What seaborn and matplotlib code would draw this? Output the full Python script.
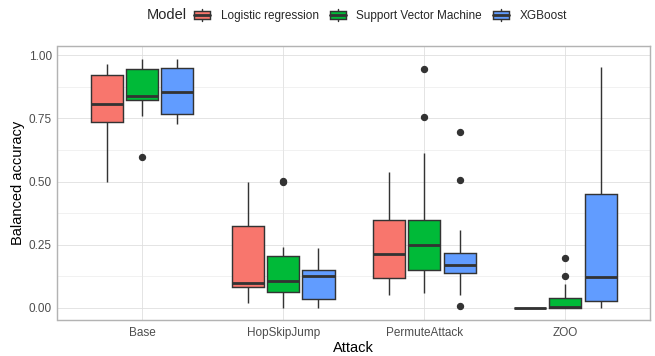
import numpy as np
import pandas as pd
import matplotlib
matplotlib.use('Agg')
import matplotlib.pyplot as plt
from matplotlib.patches import Rectangle, Patch
from matplotlib.lines import Line2D
from matplotlib.legend_handler import HandlerBase
import seaborn as sns

# %% data (one list per box)
attacks = ['Base', 'HopSkipJump', 'PermuteAttack', 'ZOO']
models = ['Logistic regression', 'Support Vector Machine', 'XGBoost']
colors = ['#F8766D', '#00BA38', '#619CFF']

base_lr = [0.498, 0.62, 0.71, 0.737, 0.76, 0.79, 0.807, 0.84, 0.89, 0.923, 0.94, 0.955, 0.967]
base_svm = [0.598, 0.758, 0.80, 0.822, 0.826, 0.832, 0.838, 0.87, 0.91, 0.945, 0.96, 0.975, 0.987]
base_xgb = [0.728, 0.745, 0.76, 0.768, 0.80, 0.83, 0.854, 0.88, 0.92, 0.952, 0.965, 0.978, 0.987]

hsj_lr = [0.018, 0.05, 0.07, 0.081, 0.088, 0.094, 0.099, 0.16, 0.25, 0.324, 0.38, 0.44, 0.498]
hsj_svm = [0.0, 0.03, 0.05, 0.062, 0.08, 0.095, 0.105, 0.14, 0.18, 0.205, 0.239, 0.499, 0.502]
hsj_xgb = [0.0, 0.01, 0.02, 0.035, 0.07, 0.11, 0.127, 0.135, 0.142, 0.150, 0.18, 0.21, 0.236]

perm_lr = [0.048, 0.08, 0.10, 0.117, 0.15, 0.19, 0.212, 0.25, 0.30, 0.349, 0.40, 0.47, 0.537]
perm_svm = [0.059, 0.10, 0.13, 0.150, 0.19, 0.22, 0.247, 0.28, 0.32, 0.347, 0.615, 0.757, 0.947]
perm_xgb = [0.007, 0.048, 0.10, 0.139, 0.150, 0.160, 0.167, 0.185, 0.20, 0.218, 0.306, 0.507, 0.697]

zoo_lr = [0.0, 0.0, 0.0, 0.0, 0.0]
zoo_svm = [0.0, 0.0, 0.0, 0.0, 0.0, 0.002, 0.003, 0.01, 0.025, 0.039, 0.094, 0.126, 0.196]
zoo_xgb = [0.0, 0.01, 0.02, 0.028, 0.06, 0.10, 0.122, 0.2, 0.33, 0.451, 0.6, 0.8, 0.955]

groups = {
    ('Base', models[0]): base_lr, ('Base', models[1]): base_svm, ('Base', models[2]): base_xgb,
    ('HopSkipJump', models[0]): hsj_lr, ('HopSkipJump', models[1]): hsj_svm, ('HopSkipJump', models[2]): hsj_xgb,
    ('PermuteAttack', models[0]): perm_lr, ('PermuteAttack', models[1]): perm_svm, ('PermuteAttack', models[2]): perm_xgb,
    ('ZOO', models[0]): zoo_lr, ('ZOO', models[1]): zoo_svm, ('ZOO', models[2]): zoo_xgb,
}
rows = [(a, m, v) for (a, m), vals in groups.items() for v in vals]
df = pd.DataFrame(rows, columns=['Attack', 'Model', 'Balanced accuracy'])

# %% plot
sns.set_style('whitegrid')
plt.rcParams['font.family'] = ['Liberation Sans', 'DejaVu Sans']

DPI = 96
fig = plt.figure(figsize=(655 / DPI, 356 / DPI), dpi=DPI)
ax = fig.add_axes([57.5 / 655, 1 - 320 / 356, (650 - 57.5) / 655, (320 - 46.3) / 356])

edge = '#333333'
sns.boxplot(data=df, x='Attack', y='Balanced accuracy', hue='Model', order=attacks,
            hue_order=models, palette=colors, saturation=1, width=0.75, gap=0.09,
            linecolor=edge, linewidth=1.07, showcaps=False, fliersize=4.5,
            flierprops={'marker': 'o', 'markerfacecolor': edge, 'markeredgecolor': edge},
            medianprops={'linewidth': 2.1, 'color': edge}, legend=False, ax=ax)

lo, hi = df['Balanced accuracy'].min(), df['Balanced accuracy'].max()
pad = (hi - lo) * 0.05
ax.set_ylim(lo - pad, hi + pad)
ax.set_xlim(-0.6, 3.6)
ax.set_yticks([0, 0.25, 0.5, 0.75, 1.0])
ax.set_yticklabels(['0.00', '0.25', '0.50', '0.75', '1.00'])
ax.set_yticks([0.125, 0.375, 0.625, 0.875], minor=True)

ax.set_axisbelow(True)
ax.grid(True, which='major', color='#DEDEDE', linewidth=0.6)
ax.grid(True, which='minor', axis='y', color='#E6E6E6', linewidth=0.4)
ax.tick_params(axis='both', which='major', length=2.75, width=0.55, color='#B3B3B3',
               labelcolor='#4D4D4D', labelsize=8.8)
ax.tick_params(axis='y', which='major', pad=1.6)
ax.tick_params(axis='x', which='major', pad=2.2)
ax.tick_params(which='minor', length=0)
for s in ax.spines.values():
    s.set_visible(True)
    s.set_color('#B3B3B3')
    s.set_linewidth(1.07)

ax.set_xlabel('Attack', fontsize=11, color='black', labelpad=2)
ax.set_ylabel('Balanced accuracy', fontsize=11, color='black', labelpad=3)


# legend keys drawn like ggplot boxplot keys
class BoxKey(HandlerBase):
    def create_artists(self, legend, orig_handle, xdescent, ydescent, width, height, fontsize, trans):
        x0, y0 = -xdescent, -ydescent
        cx = x0 + width / 2
        b0, b1 = y0 + 0.2 * height, y0 + 0.8 * height
        box = Rectangle((x0, b0), width, b1 - b0, facecolor=orig_handle.get_facecolor(),
                        edgecolor=edge, linewidth=1.07, transform=trans)
        w1 = Line2D([cx, cx], [y0, b0], color=edge, linewidth=1.07, transform=trans)
        w2 = Line2D([cx, cx], [b1, y0 + height], color=edge, linewidth=1.07, transform=trans)
        med = Line2D([x0, x0 + width], [(b0 + b1) / 2] * 2, color=edge, linewidth=2.1, transform=trans)
        return [w1, w2, box, med]


handles = [Patch(facecolor=c) for c in colors]
fig.text(146.7 / 655, 1 - 15 / 356, 'Model', fontsize=11, va='center', ha='left')
fig.legend(handles, models, handler_map={Patch: BoxKey()}, loc='center left',
           bbox_to_anchor=(194 / 655, 1 - 15.5 / 356), ncol=3, frameon=False,
           fontsize=8.8, handlelength=1.37, handleheight=1.2, handletextpad=0.9,
           columnspacing=0.95, borderpad=0, borderaxespad=0)

fig.savefig('out.png', dpi=DPI)
